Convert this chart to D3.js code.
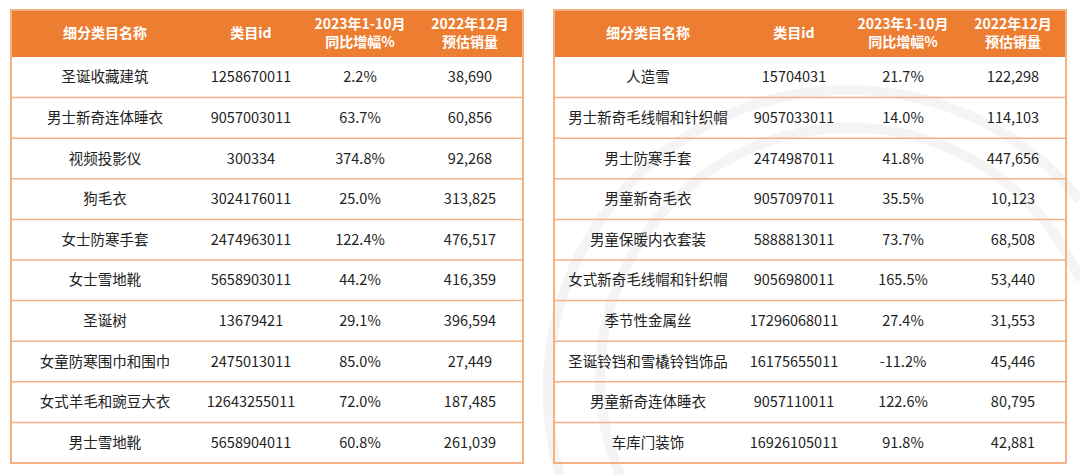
<!DOCTYPE html>
<html>
<head>
<meta charset="utf-8">
<script src="https://cdn.jsdelivr.net/npm/d3@7"></script>
<style>
  body { margin: 0; background: #fff; }
  svg text { font-family: "Noto Sans CJK SC", "Noto Sans", sans-serif; }
</style>
</head>
<body>
<div id="chart"></div>
<script>
var width = 1080,
    height = 475;

// column headers (two lines where needed)
var headers = [["细分类目名称"], ["类目id"], ["2023年1-10月", "同比增幅%"], ["2022年12月", "预估销量"]];

// left table
var leftNames = ["圣诞收藏建筑", "男士新奇连体睡衣", "视频投影仪", "狗毛衣", "女士防寒手套", "女士雪地靴", "圣诞树", "女童防寒围巾和围巾", "女式羊毛和豌豆大衣", "男士雪地靴"];
var leftIds = ["1258670011", "9057003011", "300334", "3024176011", "2474963011", "5658903011", "13679421", "2475013011", "12643255011", "5658904011"];
var leftGrowth = [2.2, 63.7, 374.8, 25.0, 122.4, 44.2, 29.1, 85.0, 72.0, 60.8];
var leftSales = [38690, 60856, 92268, 313825, 476517, 416359, 396594, 27449, 187485, 261039];

// right table
var rightNames = ["人造雪", "男士新奇毛线帽和针织帽", "男士防寒手套", "男童新奇毛衣", "男童保暖内衣套装", "女式新奇毛线帽和针织帽", "季节性金属丝", "圣诞铃铛和雪橇铃铛饰品", "男童新奇连体睡衣", "车库门装饰"];
var rightIds = ["15704031", "9057033011", "2474987011", "9057097011", "5888813011", "9056980011", "17296068011", "16175655011", "9057110011", "16926105011"];
var rightGrowth = [21.7, 14.0, 41.8, 35.5, 73.7, 165.5, 27.4, -11.2, 122.6, 91.8];
var rightSales = [122298, 114103, 447656, 10123, 68508, 53440, 31553, 45446, 80795, 42881];

var orange = "#ed7d31",
    lineColor = "#f4b183",
    textColor = "#222";

var svg = d3.select("#chart")
    .append("svg")
    .attr("width", width)
    .attr("height", height);

// faint background watermark arcs
var wm = svg.append("g").style("fill", "none").style("stroke", "#f4f4f4").style("stroke-width", 10);
wm.append("path").attr("d", "M 560 475 A 300 300 0 0 1 1080 200");
wm.append("path").attr("d", "M 620 475 A 240 240 0 0 1 1080 280");

var fmtSales = d3.format(",");
var fmtPct = function (v) { return v.toFixed(1) + "%"; };

var colBounds = [0, 188, 292, 406, 512];
var tableTop = 10,
    headerH = 47,
    rowH = 40.6;

function drawTable(x0, names, ids, growth, sales) {
    var g = svg.append("g").attr("transform", "translate(" + x0 + ",0)");
    var n = names.length;

    var y = d3.scaleLinear().domain([0, n]).range([tableTop + headerH, tableTop + headerH + n * rowH]);

    // header band
    g.append("rect")
        .attr("x", 0)
        .attr("y", tableTop)
        .attr("width", colBounds[4])
        .attr("height", headerH)
        .style("fill", orange);

    headers.forEach(function (h, c) {
        var cx = (colBounds[c] + colBounds[c + 1]) / 2;
        var t = g.append("text")
            .attr("x", cx)
            .attr("y", tableTop + headerH / 2 - (h.length - 1) * 9)
            .style("text-anchor", "middle")
            .style("font-size", "14px")
            .style("font-weight", "bold")
            .style("fill", "#fff");
        h.forEach(function (line, k) {
            t.append("tspan")
                .attr("x", cx)
                .attr("dy", k === 0 ? "0.35em" : "18px")
                .text(line);
        });
    });

    // row separators
    d3.range(1, n).forEach(function (i) {
        g.append("line")
            .attr("x1", 0).attr("x2", colBounds[4])
            .attr("y1", y(i)).attr("y2", y(i))
            .style("stroke", lineColor)
            .style("stroke-width", 1.5);
    });

    // outer border
    g.append("rect")
        .attr("x", 0)
        .attr("y", tableTop)
        .attr("width", colBounds[4])
        .attr("height", y(n) - tableTop)
        .style("fill", "none")
        .style("stroke", lineColor)
        .style("stroke-width", 2);

    // cells
    var cols = [names, ids, growth.map(fmtPct), sales.map(fmtSales)];
    cols.forEach(function (vals, c) {
        var cx = (colBounds[c] + colBounds[c + 1]) / 2;
        g.selectAll(null)
            .data(vals)
            .enter()
            .append("text")
            .attr("x", cx)
            .attr("y", function (d, i) { return y(i + 0.5); })
            .attr("dy", "0.35em")
            .style("text-anchor", "middle")
            .style("font-size", "14.5px")
            .style("fill", textColor)
            .text(function (d) { return d; });
    });
}

drawTable(11, leftNames, leftIds, leftGrowth, leftSales);
drawTable(554, rightNames, rightIds, rightGrowth, rightSales);
</script>
</body>
</html>
